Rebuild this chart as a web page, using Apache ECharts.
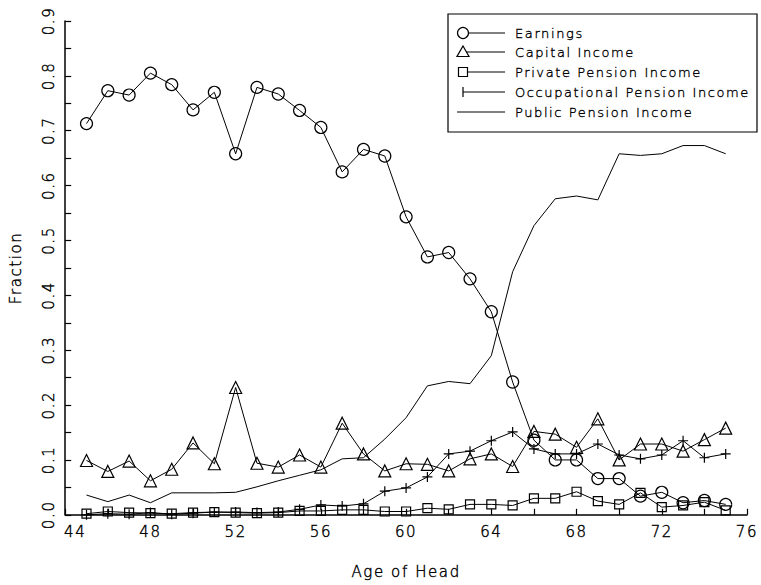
<!DOCTYPE html>
<html>
<head>
<meta charset="utf-8">
<script src="https://cdn.jsdelivr.net/npm/echarts@6/dist/echarts.min.js"></script>
<style>
  html, body { margin: 0; padding: 0; background: #fff; }
  #chart { width: 761px; height: 585px; }
  #chart text { letter-spacing: 1.6px; }
</style>
</head>
<body>
<div id="chart"></div>
<script>
// Age of household head
const ages = [45,46,47,48,49,50,51,52,53,54,55,56,57,58,59,60,61,62,63,64,65,66,67,68,69,70,71,72,73,74,75];

// Income shares by source
const earnings = [0.713,0.773,0.765,0.805,0.784,0.738,0.770,0.658,0.779,0.767,
                  0.737,0.706,0.625,0.666,0.654,0.543,0.470,0.478,0.430,0.370,
                  0.242,0.136,0.100,0.100,0.066,0.066,0.034,0.041,0.022,0.026,0.019];
const capitalIncome = [0.099,0.079,0.098,0.062,0.083,0.131,0.093,0.232,0.094,0.087,
                       0.109,0.087,0.167,0.111,0.080,0.093,0.092,0.080,0.102,0.111,
                       0.088,0.152,0.147,0.123,0.175,0.100,0.129,0.129,0.116,0.137,0.158];
const privatePension = [0.002,0.006,0.004,0.003,0.002,0.004,0.005,0.004,0.003,0.004,
                        0.007,0.007,0.009,0.009,0.006,0.006,0.012,0.010,0.019,0.019,
                        0.017,0.030,0.030,0.042,0.025,0.019,0.040,0.014,0.017,0.023,0.008];
const occupationalPension = [0.000,0.002,0.001,0.004,0.001,0.003,0.005,0.005,0.004,0.005,
                             0.010,0.018,0.016,0.020,0.043,0.049,0.069,0.111,0.116,0.135,
                             0.151,0.120,0.111,0.111,0.129,0.109,0.102,0.109,0.135,0.104,0.111];
const publicPension = [0.036,0.024,0.036,0.022,0.040,0.040,0.040,0.041,0.051,0.062,
                       0.072,0.082,0.102,0.104,0.138,0.177,0.235,0.243,0.239,0.290,
                       0.443,0.527,0.576,0.581,0.574,0.658,0.655,0.658,0.673,0.673,0.658];

const seriesNames = ['Earnings','Capital Income','Private Pension Income','Occupational Pension Income','Public Pension Income'];

const FONT = 'DejaVu Sans';
const WEIGHT = 200;
const INK = '#000';
const PLUS = 'path://M0,5L10,5M5,0L5,10';

function pairs(values) { return ages.map((a, i) => [a, values[i]]); }

function lineSeries(name, values, symbol, size) {
  return {
    name, type: 'line', data: pairs(values),
    symbol: symbol || 'none', symbolSize: size || 0,
    showSymbol: !!symbol,
    lineStyle: { color: INK, width: 1 },
    itemStyle: { color: 'rgba(0,0,0,0)', borderColor: INK, borderWidth: 1.2 },
    emphasis: { disabled: true },
    animation: false, z: 3
  };
}

// Boxed key: symbol at the left end of a short line, then the label
const keyLeft = 448, keyTop = 14, keyW = 309, keyH = 118;
const rowY = [33, 52, 72, 92, 112];
const legend = [{
  type: 'rect', shape: { x: keyLeft, y: keyTop, width: keyW, height: keyH },
  style: { fill: '#fff', stroke: INK, lineWidth: 1.2 }, z: 10
}];
rowY.forEach((y, i) => {
  const x0 = i === 4 ? 457 : 463;
  legend.push({ type: 'line', shape: { x1: x0, y1: y, x2: 505, y2: y }, style: { stroke: INK, lineWidth: 1 }, z: 11 });
  legend.push({ type: 'text', x: 515, y: y, style: {
    text: seriesNames[i], fill: INK, stroke: INK, lineWidth: 0.35,
    font: WEIGHT + ' 13px "' + FONT + '"', verticalAlign: 'middle'
  }, z: 11 });
});
legend.push({ type: 'circle', shape: { cx: 463, cy: rowY[0], r: 5.5 }, style: { fill: '#fff', stroke: INK, lineWidth: 1.2 }, z: 12 });
legend.push({ type: 'polygon', shape: { points: [[463, rowY[1] - 6], [469, rowY[1] + 4.5], [457, rowY[1] + 4.5]] }, style: { fill: '#fff', stroke: INK, lineWidth: 1.2 }, z: 12 });
legend.push({ type: 'rect', shape: { x: 458.5, y: rowY[2] - 4.5, width: 9, height: 9 }, style: { fill: '#fff', stroke: INK, lineWidth: 1.2 }, z: 12 });
legend.push({ type: 'line', shape: { x1: 463, y1: rowY[3] - 5, x2: 463, y2: rowY[3] + 5 }, style: { stroke: INK, lineWidth: 1.2 }, z: 12 });

// thin plotter-style lettering, darkened with a hairline outline
const tickFont = { fontFamily: FONT, fontWeight: WEIGHT, fontSize: 15, color: INK, textBorderColor: INK, textBorderWidth: 0.4 };

const chart = echarts.init(document.getElementById('chart'), null, { renderer: 'svg' });
chart.setOption({
  backgroundColor: '#fff',
  animation: false,
  grid: { left: 64, top: 21, width: 683, height: 500, containLabel: false },
  xAxis: {
    type: 'value', min: 44, max: 76, interval: 2,
    name: 'Age of Head', nameLocation: 'middle', nameGap: 50,
    nameTextStyle: tickFont,
    axisLine: { show: true, lineStyle: { color: INK, width: 1.5 } },
    axisTick: { show: true, inside: true, length: 6, lineStyle: { color: INK, width: 1.2 } },
    axisLabel: Object.assign({
      margin: 10,
      // the first label sits a little clear of the vertical axis
      formatter: v => (v % 4 !== 0 ? '' : (v === 44 ? '{first|44}' : String(v))),
      rich: { first: Object.assign({ padding: [0, 0, 0, 20] }, tickFont) }
    }, tickFont),
    splitLine: { show: false }
  },
  yAxis: {
    type: 'value', min: 0, max: 0.9, interval: 0.05,
    name: 'Fraction', nameLocation: 'middle', nameGap: 42,
    nameTextStyle: tickFont,
    axisLine: { show: true, lineStyle: { color: INK, width: 1.5 } },
    axisTick: { show: true, inside: true, length: 6, lineStyle: { color: INK, width: 1.2 } },
    axisLabel: Object.assign({
      rotate: 90, margin: 9,
      formatter: v => (Math.round(v * 20) % 2 === 0 ? v.toFixed(1) : '')
    }, tickFont),
    splitLine: { show: false }
  },
  series: [
    lineSeries('Earnings', earnings, 'circle', 12),
    lineSeries('Capital Income', capitalIncome, 'triangle', 12),
    lineSeries('Private Pension Income', privatePension, 'rect', 9),
    lineSeries('Occupational Pension Income', occupationalPension, PLUS, 10),
    lineSeries('Public Pension Income', publicPension, null, 0)
  ],
  graphic: legend
});
</script>
</body>
</html>
